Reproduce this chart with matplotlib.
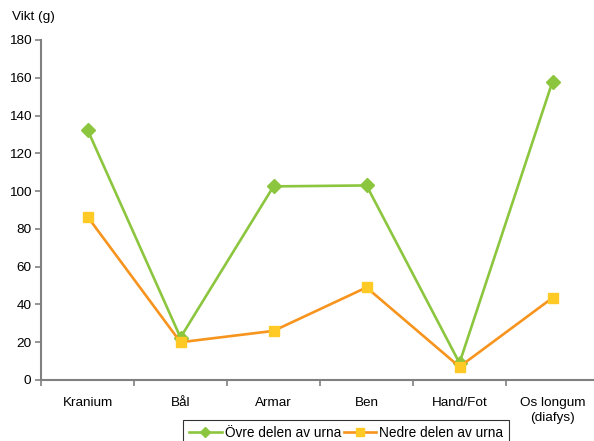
import matplotlib
matplotlib.use("Agg")
import matplotlib.pyplot as plt
import numpy as np

categories = ["Kranium", "Bål", "Armar", "Ben", "Hand/Fot", "Os longum\n(diafys)"]
ovre = [132.5, 22.5, 102.5, 103.0, 9.0, 158.0]
nedre = [86.5, 20.0, 26.0, 49.0, 7.0, 43.5]
series_labels = ["Övre delen av urna", "Nedre delen av urna"]
yticks = [0, 20, 40, 60, 80, 100, 120, 140, 160, 180]

plt.rcParams['font.family'] = ['Liberation Sans', 'DejaVu Sans']

fig = plt.figure(figsize=(5.94, 4.41), dpi=100)
W, H = 594, 441
ax = fig.add_axes([41 / W, 1 - 380 / H, (599 - 41) / W, (380 - 40) / H])

x = np.arange(len(categories))
green = "#8CC63F"
orange = "#F7941D"
yellow = "#FFC926"

ax.plot(x, ovre, color=green, lw=1.9, marker='D', ms=7, mfc=green, mec=green,
        label=series_labels[0], clip_on=False, zorder=3)
ax.plot(x, nedre, color=orange, lw=1.9, marker='s', ms=7, mfc=yellow, mec=yellow,
        label=series_labels[1], clip_on=False, zorder=3)

ax.set_xlim(-0.5, len(categories) - 0.5)
ax.set_ylim(0, 180)
ax.set_yticks(yticks)
ax.set_yticklabels([str(v) for v in yticks], fontsize=9.7)

ax.set_xticks(np.arange(len(categories) + 1) - 0.5)
ax.set_xticklabels([])
ax.set_xticks(x, minor=True)
ax.set_xticklabels(categories, minor=True, fontsize=9.7, linespacing=1.35)
ax.tick_params(axis='x', which='minor', length=0, pad=12)
ax.tick_params(axis='x', which='major', length=4, width=1.2, color="#808080", direction='out')
ax.tick_params(axis='y', length=4, width=1.2, color="#808080", direction='out', pad=3)

for s in ['top', 'right']:
    ax.spines[s].set_visible(False)
for s in ['left', 'bottom']:
    ax.spines[s].set_color("#808080")
    ax.spines[s].set_linewidth(1.5)

fig.text(12 / W, 1 - 17 / H, "Vikt (g)", fontsize=9.7, va='center', ha='left')

leg = fig.legend(loc='upper left', bbox_to_anchor=(183 / W, 1 - 420 / H), ncol=2,
                 fontsize=9.8, frameon=True, fancybox=False, edgecolor='black',
                 handlelength=2.4, handletextpad=0.2, columnspacing=0.2,
                 borderpad=0.45, borderaxespad=0, markerscale=0.75)
leg.get_frame().set_linewidth(0.8)

fig.savefig("out.png", dpi=100)
